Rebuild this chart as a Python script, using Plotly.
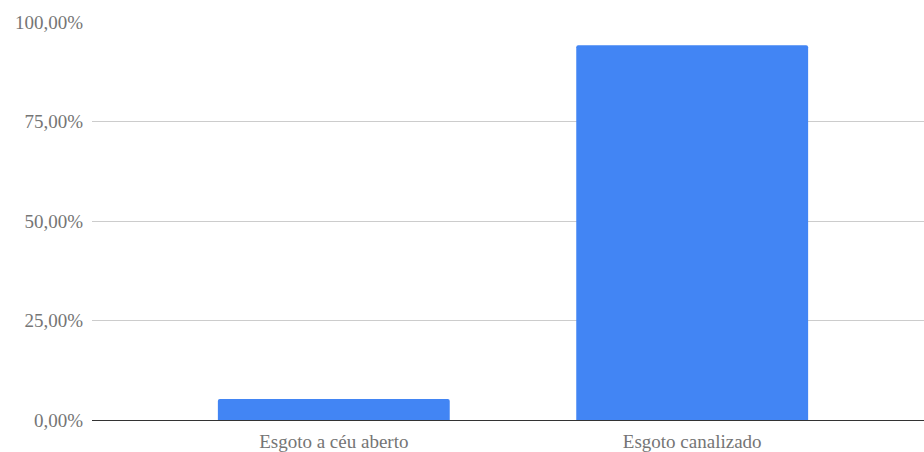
import plotly.graph_objects as go

categories = ["Esgoto a céu aberto", "Esgoto canalizado"]
values = [0.0525, 0.9415]
y_ticks = [0, 0.25, 0.5, 0.75, 1.0]

fig = go.Figure(go.Bar(
    x=[0, 1], y=values, marker_color="#4285F4", width=0.647,
    marker_line_width=0,
))
fig.update_layout(
    width=924, height=452,
    margin=dict(l=92, r=0, t=22, b=30),
    plot_bgcolor="white", paper_bgcolor="white",
    separators=",.",
    barcornerradius=2,
    font=dict(family="Liberation Serif, Times New Roman, serif", size=19, color="#757575"),
    showlegend=False,
)
fig.update_xaxes(
    range=[-0.6747, 1.6468], tickvals=[0, 1], ticktext=categories,
    showgrid=False, showline=True, linecolor="#333333", linewidth=1,
    ticks="", ticklabelstandoff=4, zeroline=False,
)
fig.update_yaxes(
    range=[0, 1], tickvals=y_ticks, tickformat=".2%",
    showgrid=True, gridcolor="#cccccc", gridwidth=1, zeroline=False,
    ticks="", ticklabelstandoff=8,
)
fig.write_html("out.html")
